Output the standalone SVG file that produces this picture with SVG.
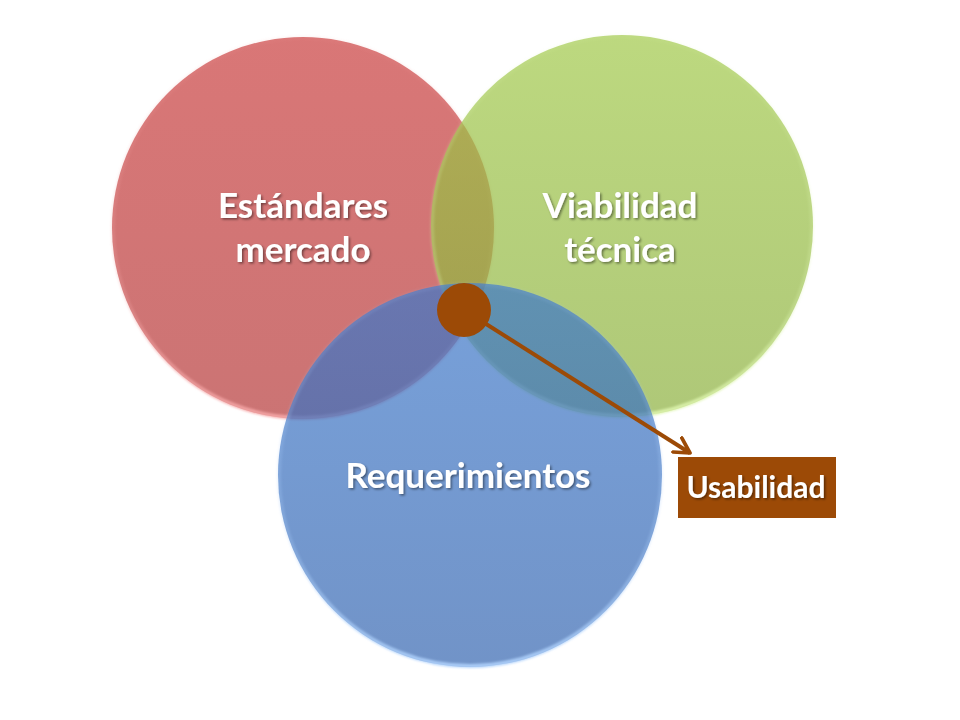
<svg xmlns="http://www.w3.org/2000/svg" width="960" height="720" viewBox="0 0 960 720">
  <defs>
    <filter id="txtShadow" x="-10%" y="-30%" width="120%" height="160%">
      <feDropShadow dx="1.5" dy="1.5" stdDeviation="1.2" flood-color="#000" flood-opacity="0.45"/>
    </filter>
    <filter id="soft" x="-5%" y="-5%" width="110%" height="110%">
      <feGaussianBlur stdDeviation="1"/>
    </filter>
    <linearGradient id="gRed" x1="0" y1="0" x2="0" y2="1">
      <stop offset="0" stop-color="#C93C3C"/>
      <stop offset="1" stop-color="#B53838"/>
    </linearGradient>
    <linearGradient id="gGreen" x1="0" y1="0" x2="0" y2="1">
      <stop offset="0" stop-color="#A0C848"/>
      <stop offset="1" stop-color="#8CB03E"/>
    </linearGradient>
    <linearGradient id="gBlue" x1="0" y1="0" x2="0" y2="1">
      <stop offset="0" stop-color="#3D78CA"/>
      <stop offset="1" stop-color="#3465B0"/>
    </linearGradient>
    <linearGradient id="rimRed" x1="0" y1="0" x2="0" y2="1">
      <stop offset="0" stop-color="#E89090" stop-opacity="0.1"/>
      <stop offset="0.7" stop-color="#F0A0A0" stop-opacity="0.3"/>
      <stop offset="1" stop-color="#F6A8A8" stop-opacity="0.9"/>
    </linearGradient>
    <linearGradient id="rimGreen" x1="0" y1="0" x2="0" y2="1">
      <stop offset="0" stop-color="#D0EAA0" stop-opacity="0.1"/>
      <stop offset="0.7" stop-color="#D8F0A8" stop-opacity="0.3"/>
      <stop offset="1" stop-color="#DFF6B0" stop-opacity="0.9"/>
    </linearGradient>
    <linearGradient id="rimBlue" x1="0" y1="0" x2="0" y2="1">
      <stop offset="0" stop-color="#A0C4F4" stop-opacity="0.1"/>
      <stop offset="0.7" stop-color="#A8CCF8" stop-opacity="0.3"/>
      <stop offset="1" stop-color="#B0D2FC" stop-opacity="0.9"/>
    </linearGradient>
    <marker id="chev" viewBox="0 0 12 12" refX="10" refY="6" markerWidth="5" markerHeight="5" orient="auto" markerUnits="strokeWidth">
      <path d="M1,1 L10,6 L1,11" fill="none" stroke="#9C4A06" stroke-width="2.2" stroke-linecap="round" stroke-linejoin="round"/>
    </marker>
  </defs>
  <style>
    .circ { opacity: 0.7; }
    .rim { fill: none; stroke-width: 4; filter: url(#soft); }
    .lbl { font-family: Lato, "Open Sans", "Liberation Sans", sans-serif; font-weight: bold; fill: #ffffff; text-anchor: middle; filter: url(#txtShadow); }
    .big { font-size: 35px; }
    .small { font-size: 30px; }
  </style>
  <rect x="0" y="0" width="960" height="720" fill="#ffffff"/>
  <g id="estandares">
    <circle class="circ" cx="303" cy="228" r="191" fill="url(#gRed)"/>
    <circle class="rim" cx="303" cy="228" r="190" stroke="url(#rimRed)"/>
  </g>
  <g id="viabilidad">
    <circle class="circ" cx="622" cy="226" r="191" fill="url(#gGreen)"/>
    <circle class="rim" cx="622" cy="226" r="190" stroke="url(#rimGreen)"/>
  </g>
  <g id="requerimientos">
    <circle class="circ" cx="470" cy="475" r="192" fill="url(#gBlue)"/>
    <circle class="rim" cx="470" cy="475" r="191" stroke="url(#rimBlue)"/>
  </g>
  <g id="labels-circles">
    <text class="lbl big" x="303" y="218">Estándares</text>
    <text class="lbl big" x="303" y="262">mercado</text>
    <text class="lbl big" x="620" y="218">Viabilidad</text>
    <text class="lbl big" x="620" y="262">técnica</text>
    <text class="lbl big" x="468" y="488">Requerimientos</text>
  </g>
  <g id="connectors">
    <line x1="464" y1="310" x2="690" y2="453" stroke="#9C4A06" stroke-width="4" marker-end="url(#chev)"/>
  </g>
  <g id="interseccion">
    <circle cx="464" cy="310" r="27" fill="#9C4A06"/>
  </g>
  <g id="usabilidad">
    <rect x="678" y="457" width="158" height="61" fill="#9C4A06"/>
    <text class="lbl small" x="756" y="498">Usabilidad</text>
  </g>
</svg>
